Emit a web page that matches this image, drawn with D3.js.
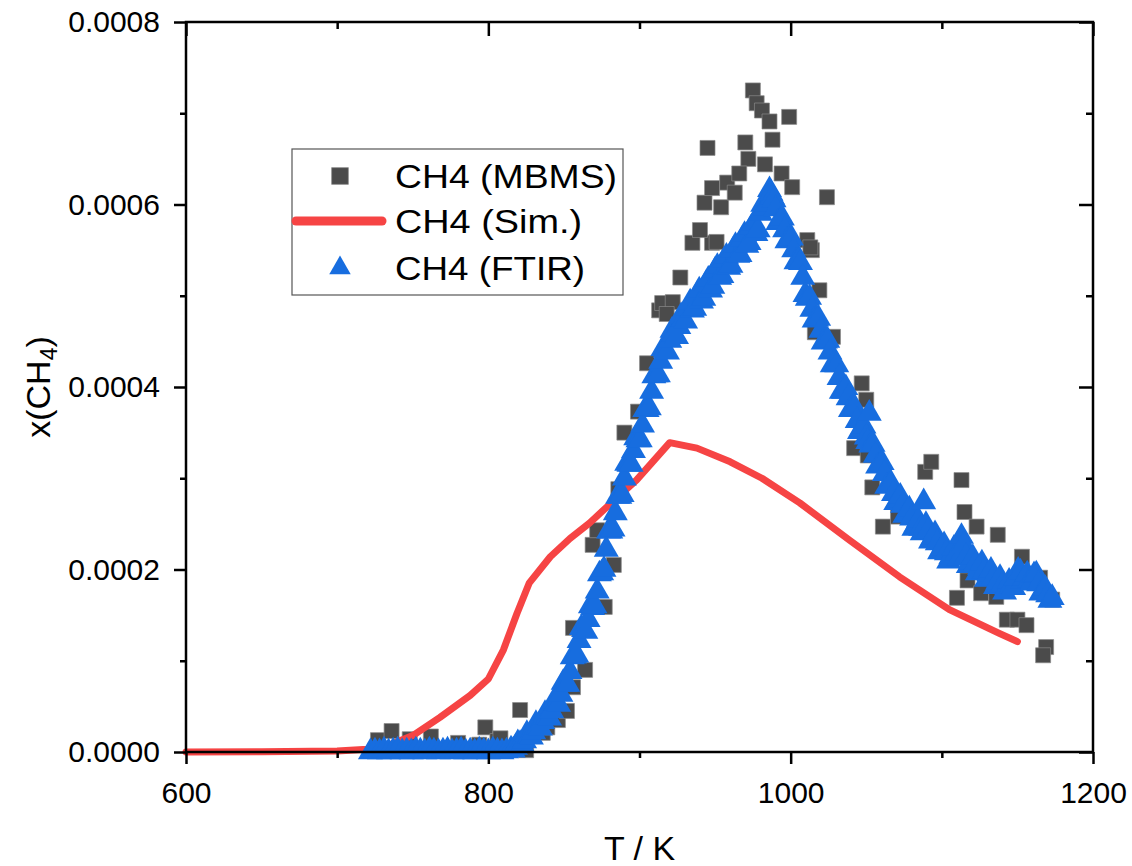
<!DOCTYPE html>
<html><head><meta charset="utf-8">
<script src="https://cdn.jsdelivr.net/npm/d3@7"></script>
<style>body{margin:0;background:#fff} text{font-family:"Liberation Sans",Arial,sans-serif;fill:#000}</style>
</head><body>
<svg id="c" width="1132" height="866"></svg>
<script>
// ---- data (y values in units of 1e-4 mole fraction) ----
const xMajorTicks=[600,800,1000,1200];
const xMinorTicks=[700,900,1100];
const yMajorTicks=[0,0.0002,0.0004,0.0006,0.0008];
const yMinorTicks=[0.0001,0.0003,0.0005,0.0007];
const seriesNames=["CH4 (MBMS)","CH4 (Sim.)","CH4 (FTIR)"];

const mbmsT=[726,727,736,748,762,780,794,798,806,808,821,825,836,839,846,852,856,864,856,877,883,869,872,886,890,899,905,913,915,922,918,927,935,948,940,951,943,954,948,958,963,945,970,972,983,966,994,1001,1024,975,977.5,981,986,999,988,1011,1014,1019,1013,1016,1028,1047,1050,1042,1051,1054,1061,1071,1089,1093,1113,1115,1123,1137,1153,1110,1117,1126,1136,1143,1150,1156,1169,1167,1165,1173];
const mbmsV=[0.03,0.13,0.23,0.14,0.17,0.10,0.08,0.27,0.12,0.15,0.46,0.02,0.21,0.27,0.35,0.45,0.71,0.90,1.36,1.59,2.05,2.27,2.43,2.88,3.50,3.73,4.26,4.84,4.92,4.93,4.80,5.20,5.58,5.58,5.72,5.59,6.02,5.97,6.18,6.24,6.13,6.62,6.68,6.50,6.44,6.34,6.34,6.19,6.08,7.25,7.11,7.03,6.91,6.96,6.71,5.61,5.50,5.06,5.53,4.60,4.55,4.04,3.86,3.33,3.25,2.90,2.47,2.58,3.07,3.18,2.98,2.63,2.47,2.38,2.14,1.69,1.88,1.74,1.70,1.45,1.45,1.39,1.15,1.06,1.91,1.67];

const simT=[600,650,700,720,735,750,768,788,800,810,819,827,841,854,867,880,898,920,938,960,981,1006,1039,1072,1105,1138,1150];
const simV=[0,0.003,0.01,0.03,0.08,0.18,0.38,0.62,0.80,1.12,1.52,1.85,2.14,2.34,2.51,2.71,2.98,3.39,3.33,3.18,3.00,2.73,2.32,1.92,1.56,1.30,1.21];

// FTIR scan, part 1
const ftirT=[722,725,728,731,734,737,740,743,746,749,752,755,758,761,764,767,770,773,776,779,782,785,788,791,794,797,800,803,806,809,812,
815,818,821,824,827,830,833,836,839,842,845,848,851,854,857,860,863,866,869,872,875,878,881,884,887,890,893,896,899,902,905,908,911,914,917,920,923,926,
929,932,935,938,941,944,947,950,953,956,959,962,965,968,971,974,977,980,983,986,
988,990,993,996,999,1002,1005,1008,1011,1014,1017,1020,1023,1026,1029,1032,1035,1038,1041,1044,1047,1050,1052,1053,1056,1059,1062,1065,1068,1071,1074,1077,1080,1083,1086,1088,1091,1094,1097,1100,1103,1106,1110,1113,1116,1119,1122,1125,1128,1131,1134,1137,1140,1143,1146,1149,1152,1155,1158,1161,1164,1167,1170,1173];
const ftirV=[0.00,0.01,0.00,0.02,0.00,0.01,0.02,0.00,0.01,0.00,0.02,0.01,0.00,0.02,0.01,0.00,0.01,0.02,0.00,0.01,0.02,0.00,0.01,0.00,0.02,0.01,0.00,0.02,0.01,0.00,0.01,
0.03,0.05,0.09,0.12,0.17,0.22,0.27,0.33,0.38,0.45,0.53,0.63,0.74,0.88,1.05,1.22,1.34,1.45,1.58,1.76,1.96,2.22,2.42,2.62,2.80,3.00,3.15,3.30,3.42,3.58,3.75,3.95,4.13,4.28,4.40,4.51,4.58,4.66,
4.74,4.86,4.84,5.01,4.94,5.13,5.06,5.28,5.20,5.39,5.31,5.50,5.44,5.62,5.55,5.75,5.68,5.90,5.96,6.16,
6.08,5.95,5.82,5.72,5.62,5.50,5.38,5.20,4.97,4.85,4.74,4.62,4.50,4.38,4.25,4.10,3.95,3.88,3.76,3.63,3.54,3.45,3.71,3.36,3.25,3.15,3.05,2.92,2.83,2.76,2.70,2.62,2.56,2.49,2.45,2.74,2.42,2.35,2.29,2.23,2.18,2.14,2.18,2.36,2.14,2.08,2.05,2.02,1.98,1.95,1.90,1.86,1.83,1.80,1.82,1.90,1.97,1.90,1.88,1.94,1.84,1.76,1.72,1.69];
// FTIR scan, part 2 (interleaved readings)
const ftirT2=[816.5,819.5,822.5,825.5,828.5,831.5,834.5,837.5,840.5,843.5,846.5,849.5,852.5,855.5,858.5,861.5,864.5,867.5,870.5,873.5,
876.5,879.5,882.5,885.5,888.5,891.5,894.5,897.5,900.5,903.5,906.5,909.5,912.5,915.5,918.5,921.5,924.5,927.5,930.5,933.5,
936.5,939.5,942.5,945.5,948.5,951.5,954.5,957.5,960.5,963.5,966.5,969.5,972.5,975.5,978.5,981.5,984.5,987,989,991.5,
994.5,997.5,1000.5,1003.5,1006.5,1009.5,1012.5,1015.5,1018.5,1021.5,1024.5,1027.5,1030.5,1033.5,1036.5,1039.5,1042.5,1045.5,1048.5,1051,
1054.5,1057.5,1060.5,1063.5,1066.5,1069.5,1072.5,1075.5,1078.5,1081.5,1084.5,1087,1089.5,1092.5,1095.5,1098.5,1101.5,1104.5,1108,1111.5,
1114.5,1117.5,1120.5,1123.5,1126.5,1129.5,1132.5,1135.5,1138.5,1141.5,1144.5,1147.5,1150.5,1153.5,1156.5,1159.5,1162.5,1165.5,1168.5,1171.5];
const ftirV2=[0.02,0.10,0.08,0.20,0.16,0.31,0.26,0.42,0.37,0.56,0.52,0.76,0.74,1.04,1.06,1.36,1.32,1.60,1.60,1.95,
2.00,2.42,2.44,2.80,2.82,3.16,3.15,3.44,3.42,3.75,3.77,4.12,4.13,4.42,4.38,4.62,4.55,4.78,4.72,4.93,
4.86,5.06,4.97,5.18,5.10,5.32,5.22,5.43,5.33,5.55,5.45,5.67,5.58,5.79,5.72,6.00,6.00,6.12,6.05,5.80,
5.85,5.60,5.63,5.37,5.36,5.01,4.98,4.73,4.75,4.49,4.51,4.24,4.24,3.95,3.99,3.75,3.77,3.51,3.57,3.40,
3.37,3.13,3.17,2.91,2.94,2.73,2.80,2.59,2.66,2.45,2.54,2.40,2.49,2.31,2.39,2.19,2.27,2.09,2.23,2.12,
2.27,2.04,2.13,1.96,2.07,1.89,1.99,1.81,1.91,1.75,1.87,1.80,1.99,1.87,1.95,1.85,1.95,1.74,1.79,1.66];

const U=1e-4;
const mbms=mbmsT.map((t,i)=>({t,v:mbmsV[i]*U}));
const sim=simT.map((t,i)=>({t,v:simV[i]*U}));
const ftir=ftirT.map((t,i)=>({t,v:ftirV[i]*U}))
  .concat(ftirT2.map((t,i)=>({t,v:ftirV2[i]*U})))
  .sort((a,b)=>a.t-b.t);

// ---- layout ----
const L=186,R=1093,T=22,B=752;
const svg=d3.select("#c");
const x=d3.scaleLinear().domain([600,1200]).range([L,R]);
const y=d3.scaleLinear().domain([0,0.0008]).range([B,T]);

const colSq="#4b4b4b", colSim="#f64444", colTri="#176ddf";
const FS=30;

// data
const gData=svg.append("g");
gData.selectAll("path.sq").data(mbms).join("path").attr("class","sq")
  .attr("d",d3.symbol(d3.symbolSquare,225))
  .attr("transform",d=>`translate(${x(d.t)},${y(d.v)})`)
  .attr("fill",colSq).attr("stroke","#8a8a8a").attr("stroke-width",0.7);

gData.append("path").datum(sim)
  .attr("d",d3.line().x(d=>x(d.t)).y(d=>y(d.v)))
  .attr("fill","none").attr("stroke",colSim).attr("stroke-width",7)
  .attr("stroke-linejoin","round").attr("stroke-linecap","round");

gData.selectAll("path.tri").data(ftir).join("path").attr("class","tri")
  .attr("d",d3.symbol(d3.symbolTriangle,270))
  .attr("transform",d=>`translate(${x(d.t)},${y(d.v)})`)
  .attr("fill",colTri);

// axes
function styleAxis(g){g.select(".domain").remove();g.selectAll("line").attr("stroke","#000").attr("stroke-width",2.5);g.selectAll("text").attr("font-size",FS).attr("font-family","Liberation Sans, Arial, sans-serif");}
svg.append("g").attr("transform",`translate(0,${B})`)
  .call(d3.axisBottom(x).tickValues(xMajorTicks).tickSize(12).tickPadding(18).tickFormat(d3.format("d"))).call(styleAxis);
svg.append("g").attr("transform",`translate(0,${B})`)
  .call(d3.axisBottom(x).tickValues(xMinorTicks).tickSize(6).tickFormat("")).call(styleAxis);
svg.append("g").attr("transform",`translate(${L},0)`)
  .call(d3.axisLeft(y).tickValues(yMajorTicks).tickSize(12).tickPadding(14).tickFormat(d3.format(".4f"))).call(styleAxis);
svg.append("g").attr("transform",`translate(${L},0)`)
  .call(d3.axisLeft(y).tickValues(yMinorTicks).tickSize(6).tickFormat("")).call(styleAxis);
// mirrored inward ticks
svg.append("g").attr("transform",`translate(0,${T})`)
  .call(d3.axisTop(x).tickValues(xMajorTicks).tickSize(-14).tickFormat("")).call(styleAxis);
svg.append("g").attr("transform",`translate(0,${T})`)
  .call(d3.axisTop(x).tickValues(xMinorTicks).tickSize(-7).tickFormat("")).call(styleAxis);
svg.append("g").attr("transform",`translate(${R},0)`)
  .call(d3.axisRight(y).tickValues(yMajorTicks).tickSize(-14).tickFormat("")).call(styleAxis);
svg.append("g").attr("transform",`translate(${R},0)`)
  .call(d3.axisRight(y).tickValues(yMinorTicks).tickSize(-7).tickFormat("")).call(styleAxis);

svg.append("rect").attr("x",L).attr("y",T).attr("width",R-L).attr("height",B-T)
  .attr("fill","none").attr("stroke","#000").attr("stroke-width",2.5);

// axis titles
svg.append("text").attr("x",(L+R)/2).attr("y",860).attr("text-anchor","middle")
  .attr("font-size",34).text("T / K");
const yt=svg.append("text").attr("transform",`translate(50,${(T+B)/2}) rotate(-90)`)
  .attr("text-anchor","middle").attr("font-size",34);
yt.append("tspan").text("x(CH");
yt.append("tspan").attr("font-size",23).attr("dy",7).text("4");
yt.append("tspan").attr("dy",-7).text(")");

// legend
const lg=svg.append("g");
lg.append("rect").attr("x",292).attr("y",149).attr("width",331).attr("height",146)
  .attr("fill","#fff").attr("stroke","#555").attr("stroke-width",1.2);
const rows=[176,221,268];
const widths=[222,187,190];
lg.append("path").attr("d",d3.symbol(d3.symbolSquare,280)).attr("transform",`translate(340,${rows[0]})`)
  .attr("fill",colSq).attr("stroke","#8a8a8a").attr("stroke-width",0.7);
lg.append("line").attr("x1",296).attr("x2",382).attr("y1",rows[1]).attr("y2",rows[1])
  .attr("stroke",colSim).attr("stroke-width",9).attr("stroke-linecap","round");
lg.append("path").attr("d",d3.symbol(d3.symbolTriangle,200)).attr("transform",`translate(340,${rows[2]})`)
  .attr("fill",colTri);
seriesNames.forEach((s,i)=>{
  lg.append("text").attr("x",395).attr("y",rows[i]).attr("dy","0.36em").attr("font-size",33)
    .attr("textLength",widths[i]).attr("lengthAdjust","spacingAndGlyphs").text(s);
});
</script>
</body></html>
